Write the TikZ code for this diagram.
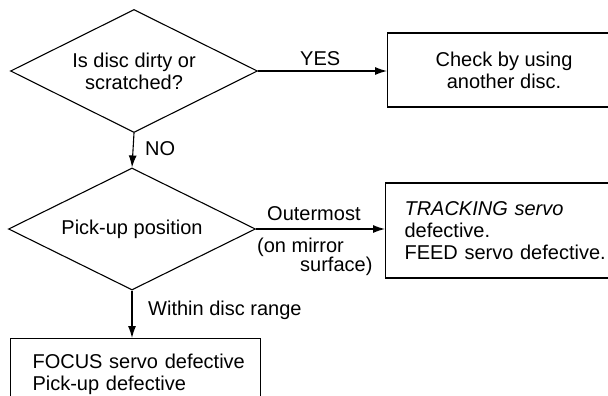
\documentclass[tikz,border=0pt]{standalone}
\usepackage{fontspec}
\setmainfont{Liberation Sans}
\usetikzlibrary{shapes.geometric,arrows.meta}
\begin{document}
\begin{tikzpicture}[x=1pt,y=-1pt,
  every node/.style={font=\fontsize{20}{22}\selectfont},
  dia/.style={draw,line width=1.1pt,diamond,aspect=2,minimum width=247pt,minimum height=123pt,inner sep=0pt,align=center},
  box/.style={draw,line width=1.1pt,rectangle},
  lbl/.style={inner sep=0pt},
  arr/.style={line width=1.1pt,-{Latex[length=12pt,width=8pt]}}]
\useasboundingbox (0,0) rectangle (608,396);
\clip (0,0) rectangle (608,396);
\node[dia] (d1) at (134,71) {Is disc dirty or\\scratched?};
\node[dia,minimum height=122pt] (d2) at (132,229) {Pick-up position};
\node[box,anchor=west,minimum width=233pt,minimum height=74pt,align=center] (b1) at (387,70) {Check by using\\another disc.};
\node[box,anchor=west,minimum height=95pt,text width=200pt,inner xsep=19pt,align=left] (b2) at (385,230.5) {\textit{TRACKING servo}\\defective.\\\mbox{FEED servo defective.}};
\node[box,anchor=north west,minimum height=72pt,text width=206pt,inner xsep=22pt,align=left] (b3) at (10,338) {\mbox{FOCUS servo defective}\\Pick-up defective};
\draw[arr] (d1.east) -- (b1.west |- d1.east);
\draw[arr] (d1.south) -- (d2.north);
\draw[arr] (d2.east) -- (b2.west |- d2.east);
\draw[arr] (d2.south) -- (d2.south |- b3.north);
\node[lbl,anchor=base west] (yes) at (300,66) {YES};
\node[lbl,anchor=base west] (no) at (145,155) {NO};
\node[lbl,anchor=base west] (outer) at (267,220) {Outermost};
\node[lbl,anchor=base west,align=left] (mirror) at (257,271) {(on mirror\\[-3pt]\hspace*{43pt}surface)};
\node[lbl,anchor=base west] (within) at (148,315) {Within disc range};
\end{tikzpicture}
\end{document}
